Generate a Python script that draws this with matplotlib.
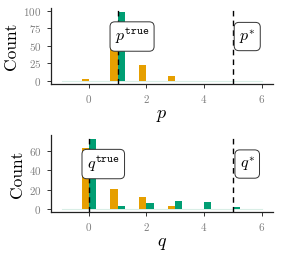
import matplotlib.pyplot as plt
import numpy as np

plt.rcParams['font.family'] = 'cmr10'
plt.rcParams['mathtext.fontset'] = 'cm'
plt.rcParams['axes.formatter.use_mathtext'] = True

# counts at each integer value
xs = np.arange(-1, 7)
p_orange = [0, 2, 68, 23, 7, 0, 0, 0]
p_green = [0, 0, 99, 0, 0, 0, 0, 0]
q_orange = [0, 64, 21, 12, 3, 0, 0, 0]
q_green = [0, 73, 3, 6, 8, 7, 2, 0]

p_true, p_star = 1, 5
q_true, q_star = 0, 5

orange = '#E69F00'
green = '#009E73'

fig = plt.figure(figsize=(2.81, 2.56), dpi=100)
ax1 = fig.add_axes([0.180, 0.671, 0.790, 0.297])
ax2 = fig.add_axes([0.180, 0.171, 0.790, 0.300])


def panel(ax, vo, vg, xtrue, xstar, sym, ymax, yticks):
    w = 0.25
    # faint baseline of the empty bins
    ax.plot([xs[0] + 0.05, xs[-1]], [0, 0], color='#d9eee6', linewidth=0.8, zorder=0)
    ax.bar(xs - w / 2, vo, width=w, color=orange, linewidth=0)
    ax.bar(xs + w / 2, vg, width=w, color=green, linewidth=0)
    for xv in (xtrue, xstar):
        ax.axvline(xv, color='black', linestyle=(0, (4, 3)), linewidth=1.0, zorder=3)
    box = dict(boxstyle='round,pad=0.3,rounding_size=0.3', facecolor='white',
               edgecolor='#333333', linewidth=0.7)
    yl = 0.64 * max(max(vo), max(vg))
    ax.text(xtrue + 0.5, yl, '$' + sym + r'^{\mathtt{true}}$', ha='center', va='center',
            fontsize=11.5, bbox=box, zorder=4)
    ax.text(xstar + 0.5, yl, '$' + sym + '^{*}$', ha='center', va='center',
            fontsize=11.5, bbox=box, zorder=4)
    ax.set_xlim(-1.33, 6.38)
    ax.set_ylim(-0.05 * ymax, 1.05 * ymax)
    ax.set_xticks([0, 2, 4, 6])
    ax.set_yticks(yticks)
    ax.tick_params(labelcolor='#7F7F7F', color='#333333', labelsize=8, length=3, width=0.7)
    for s in ('top', 'right'):
        ax.spines[s].set_visible(False)
    for s in ('left', 'bottom'):
        ax.spines[s].set_linewidth(0.9)
        ax.spines[s].set_color('#222222')
    ax.set_ylabel('Count', fontsize=12.5, labelpad=3)
    ax.set_xlabel('$' + sym + '$', fontsize=13, labelpad=2)


panel(ax1, p_orange, p_green, p_true, p_star, 'p', 99, [0, 25, 50, 75, 100])
panel(ax2, q_orange, q_green, q_true, q_star, 'q', 73, [0, 20, 40, 60])

fig.savefig('out.png', dpi=100)
